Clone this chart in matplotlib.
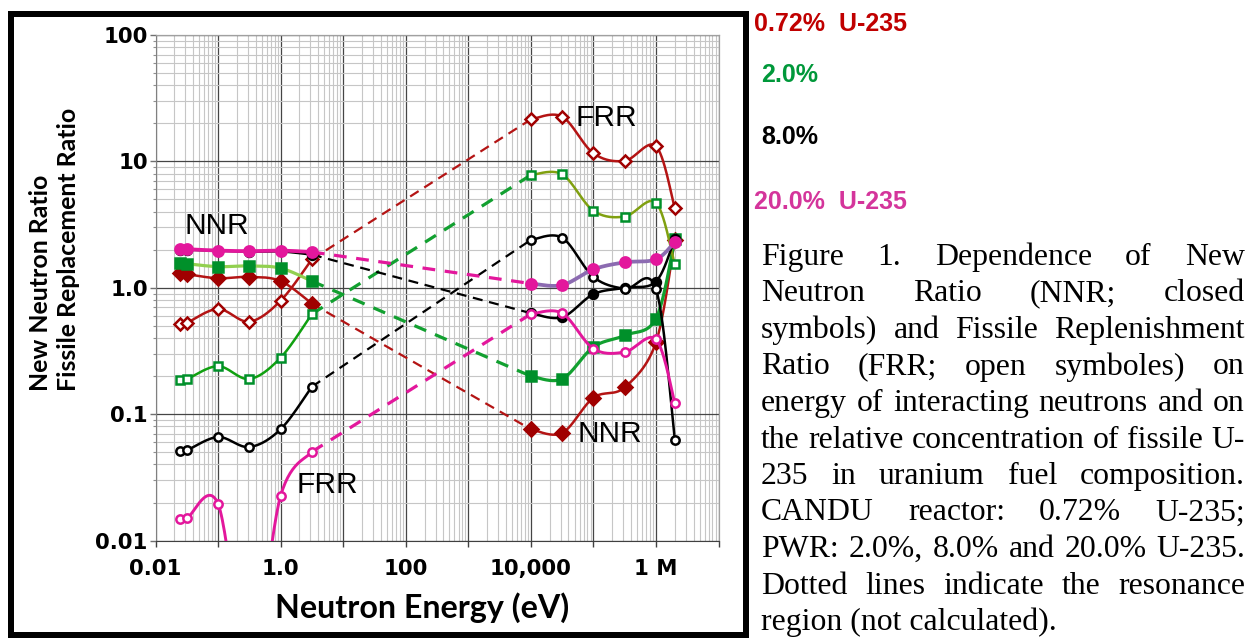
import numpy as np
import matplotlib
matplotlib.use("Agg")
import matplotlib.pyplot as plt
from matplotlib.patches import Rectangle
from matplotlib.font_manager import FontProperties
from matplotlib.ticker import FixedLocator, FixedFormatter, LogLocator, NullFormatter

# ---------------- data ----------------
E_low = [0.025, 0.032, 0.1, 0.316, 1.0, 3.16]
E_high = [1e4, 3.16e4, 1e5, 3.16e5, 1e6, 2e6]

# 0.72 % U-235 (CANDU)
nnr_072_low = [1.30, 1.28, 1.19, 1.22, 1.13, 0.75]
nnr_072_high = [0.076, 0.071, 0.135, 0.163, 0.37, 2.40]
frr_072_low = [0.52, 0.53, 0.68, 0.54, 0.79, 1.68]
frr_072_high = [21.5, 22.6, 11.6, 10.1, 13.2, 4.26]
# 2.0 %
nnr_2_low = [1.58, 1.55, 1.47, 1.49, 1.43, 1.13]
nnr_2_high = [0.20, 0.19, 0.34, 0.42, 0.57, 2.42]
frr_2_low = [0.187, 0.19, 0.24, 0.19, 0.28, 0.62]
frr_2_high = [7.8, 7.9, 4.07, 3.66, 4.71, 1.53]
# 8.0 %
nnr_8_low = [2.0, 2.0, 1.96, 1.93, 1.94, 1.83]
nnr_8_high = [0.63, 0.585, 0.89, 1.0, 1.12, 2.45]
frr_8_low = [0.0515, 0.052, 0.066, 0.055, 0.076, 0.165]
frr_8_high = [2.39, 2.49, 1.22, 0.98, 0.98, 0.063]
# 20.0 %
nnr_20_low = [2.02, 2.02, 1.97, 1.95, 1.97, 1.92]
nnr_20_high = [1.08, 1.05, 1.40, 1.59, 1.68, 2.30]
frr_20_low = [0.0149, 0.0151, 0.0195, 0.001, 0.0226, 0.0504]
frr_20_high = [0.62, 0.63, 0.33, 0.31, 0.39, 0.123]

x_ticks = [1e-2, 1e-1, 1e0, 1e1, 1e2, 1e3, 1e4, 1e5, 1e6, 1e7]
x_ticklabels = ["0.01", "", "1.0", "", "100", "", "10,000", "", "1 M", ""]
y_ticks = [0.01, 0.1, 1.0, 10, 100]
y_ticklabels = ["0.01", "0.1", "1.0", "10", "100"]

legend_labels = ["0.72%  U-235", "2.0%", "8.0%", "20.0%  U-235"]
caption_lines = [
    "Figure 1. Dependence of New",
    "Neutron Ratio (NNR; closed",
    "symbols) and Fissile Replenishment",
    "Ratio (FRR; open symboles) on",
    "energy of interacting neutrons and on",
    "the relative concentration of fissile U-",
    "235 in uranium fuel composition.",
    "CANDU reactor: 0.72% U-235;",
    "PWR: 2.0%, 8.0% and 20.0% U-235.",
    "Dotted lines indicate the resonance",
    "region (not calculated).",
]

# ---------------- layout helpers ----------------
W, H = 1258, 638
fig = plt.figure(figsize=(W / 100, H / 100), dpi=100)
fig.patch.set_facecolor("white")
PT = 0.72  # points per pixel


def fx(x):
    return x / W


def fy(y):
    return 1 - y / H


ax_l, ax_r, ax_t, ax_b = 155.5, 718.5, 35.0, 540.6
ax = fig.add_axes([fx(ax_l), fy(ax_b), (ax_r - ax_l) / W, (ax_b - ax_t) / H])
ax.set_xscale("log")
ax.set_yscale("log")
ax.set_xlim(1e-2, 1e7)
ax.set_ylim(1e-2, 1e2)
ax.set_axisbelow(True)


def smooth(x, y, n=30):
    P = np.column_stack([np.log10(x), np.log10(y)])
    out = [P[0]]
    t = np.linspace(0, 1, n)[1:, None]
    for i in range(len(P) - 1):
        p0 = P[i - 1] if i > 0 else P[i]
        p1, p2 = P[i], P[i + 1]
        p3 = P[i + 2] if i + 2 < len(P) else P[i + 1]
        c1 = p1 + (p2 - p0) / 6
        c2 = p2 - (p3 - p1) / 6
        seg = (1 - t) ** 3 * p1 + 3 * (1 - t) ** 2 * t * c1 + 3 * (1 - t) * t ** 2 * c2 + t ** 3 * p2
        out.extend(seg)
    out = np.array(out)
    return 10 ** out[:, 0], 10 ** out[:, 1]


RED, RED_M = "#b41414", "#a00000"
GRN_M = "#00902a"
MAG = "#e3179c"
PUR = "#8c6bb1"

series = [
    # low, high, low line col, high line col, dash col, marker, filled, mcol, ms, lw, dash lw, dash pattern
    (nnr_072_low, nnr_072_high, RED, RED, RED, "D", True, RED_M, 7.2, 1.8, 1.6, (4.5, 3)),
    (frr_072_low, frr_072_high, RED, RED, RED, "D", False, RED_M, 6.4, 1.8, 1.6, (4.5, 3)),
    (nnr_2_low, nnr_2_high, "#92d050", "#12a030", "#12a030", "s", True, GRN_M, 7.2, 2.3, 2.3, (4, 3)),
    (frr_2_low, frr_2_high, "#10a010", "#80a010", "#12a030", "s", False, GRN_M, 6.4, 1.8, 2.3, (4, 3)),
    (nnr_8_low, nnr_8_high, "#000000", "#000000", "#000000", "o", True, "#000000", 6.4, 1.8, 1.6, (4.5, 3)),
    (frr_8_low, frr_8_high, "#000000", "#000000", "#000000", "o", False, "#000000", 6.0, 1.8, 1.6, (4.5, 3)),
    (nnr_20_low, nnr_20_high, MAG, PUR, MAG, "o", True, MAG, 7.4, 2.7, 2.3, (4, 3)),
    (frr_20_low, frr_20_high, MAG, MAG, MAG, "o", False, MAG, 6.0, 2.1, 2.3, (4, 3)),
]

z = 3
for low, high, cl, ch, cd, mk, filled, mc, ms, lw, dlw, dpat in series:
    # dashed connector across the (uncalculated) resonance region
    ax.plot([E_low[-1], E_high[0]], [low[-1], high[0]], color=cd, lw=dlw,
            linestyle=(0, dpat), zorder=2)
    for xs, ys, col in ((E_low, low, cl), (E_high, high, ch)):
        sx, sy = smooth(xs, ys)
        ax.plot(sx, sy, color=col, lw=lw, zorder=z, solid_capstyle="round")
        ax.plot(xs, ys, linestyle="none", marker=mk, ms=ms,
                mfc=(mc if filled else "white"), mec=mc, mew=1.8, zorder=z + 0.5)
    z += 1

# grid / ticks
ax.xaxis.set_major_locator(FixedLocator(x_ticks))
ax.xaxis.set_major_formatter(FixedFormatter(x_ticklabels))
ax.xaxis.set_minor_locator(LogLocator(base=10, subs=np.arange(2, 10), numticks=100))
ax.xaxis.set_minor_formatter(NullFormatter())
ax.yaxis.set_major_locator(FixedLocator(y_ticks))
ax.yaxis.set_major_formatter(FixedFormatter(y_ticklabels))
ax.yaxis.set_minor_locator(LogLocator(base=10, subs=np.arange(2, 10), numticks=100))
ax.yaxis.set_minor_formatter(NullFormatter())
ax.grid(which="major", color="#454545", lw=0.9)
ax.grid(which="minor", color="#c6c6c6", lw=0.8)
tick_fp = FontProperties(family="DejaVu Sans", weight="bold", size=15.3)
ax.tick_params(axis="x", which="major", direction="out", length=4.5, width=1,
               color="#404040", pad=8.5)
ax.tick_params(axis="x", which="minor", length=0)
ax.tick_params(axis="y", which="major", direction="out", length=4, width=1,
               color="#707070", pad=1.5)
ax.tick_params(axis="y", which="minor", direction="out", length=2.5, width=0.8,
               color="#909090")
for lab in ax.get_xticklabels() + ax.get_yticklabels():
    lab.set_fontproperties(tick_fp)
for s in ("top", "right"):
    ax.spines[s].set_color("#a0a0a0")
    ax.spines[s].set_linewidth(0.9)
ax.spines["left"].set_color("#808080")
ax.spines["bottom"].set_color("#404040")

fig.canvas.draw()
rend = fig.canvas.get_renderer()


def text_len(t):
    bb = t.get_window_extent(renderer=rend)
    return bb.height if t.get_rotation() in (90, 270) else bb.width


def fitted_text(x, y, s, target_w, **kw):
    t = fig.text(fx(x), fy(y), s, **kw)
    t.set_fontsize(t.get_fontsize() * target_w / text_len(t))
    return t


# axis titles
fitted_text(422, 608, "Neutron Energy (eV)", 294, family="Lato", weight="bold",
            size=18, ha="center", va="center")
ylab_kw = dict(family="Lato", weight="bold", rotation=90, rotation_mode="anchor",
               ha="left", va="center", size=16)
t2 = fitted_text(69, 391, "Fissile Replacement Ratio", 285, **ylab_kw)
ylab_kw["size"] = t2.get_fontsize()
fig.text(fx(41), fy(391), "New Neutron Ratio", **ylab_kw)

# in-plot annotations
ann_kw = dict(family="Liberation Sans", size=21.5, ha="center", va="center", color="#000000")
fig.text(fx(216.5), fy(226), "NNR", **ann_kw)
fig.text(fx(606), fy(117.5), "FRR", **ann_kw)
fig.text(fx(327), fy(485), "FRR", **ann_kw)
fig.text(fx(610), fy(434), "NNR", **ann_kw)

# frame around the chart
fig.add_artist(Rectangle((fx(11), fy(635)), (745.5 - 11) / W, (635 - 13.5) / H,
                         transform=fig.transFigure, fill=False, ec="black",
                         lw=6 * PT, zorder=10))

# coloured labels
leg_cols = ["#c00000", "#00983a", "#000000", "#d4359b"]
leg_pos = [(754, 24), (761, 75.5), (761, 137.5), (754, 202)]
for s, c, (x, y) in zip(legend_labels, leg_cols, leg_pos):
    fig.text(fx(x), fy(y), s, color=c, family="Liberation Sans", weight="bold",
             size=18, ha="left", va="center")

# justified caption
x_left, x_right = 761, 1245
base0, pitch = 265, 36.5
cap_kw = dict(family="Liberation Serif", size=20, va="baseline", ha="left", color="black")
probe = [fig.text(0, 0, ln, **cap_kw) for ln in caption_lines[:-1]]
nat = max(p.get_window_extent(renderer=rend).width for p in probe)
for p in probe:
    p.remove()
cap_kw["size"] = 20 * (x_right - x_left) * 0.995 / nat

for i, line in enumerate(caption_lines):
    yb = base0 + i * pitch
    if i == len(caption_lines) - 1:
        fig.text(fx(x_left), fy(yb), line, **cap_kw)
        continue
    words = line.split(" ")
    ts = [fig.text(0, 0, w_, **cap_kw) for w_ in words]
    widths = [t.get_window_extent(renderer=rend).width for t in ts]
    gap = (x_right - x_left - sum(widths)) / (len(words) - 1)
    xx = x_left
    for t, wd in zip(ts, widths):
        t.set_position((fx(xx), fy(yb)))
        xx += wd + gap

fig.savefig("out.png", dpi=100, facecolor="white")
